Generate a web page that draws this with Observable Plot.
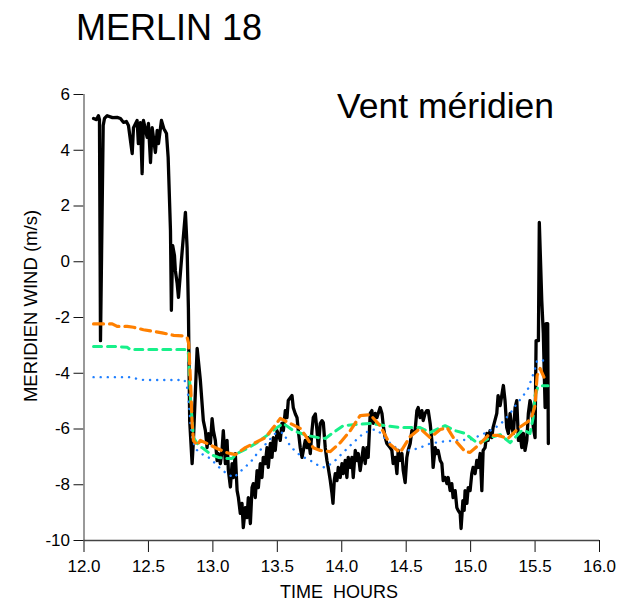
<!DOCTYPE html>
<html>
<head>
<meta charset="utf-8">
<script src="https://cdn.jsdelivr.net/npm/d3@7"></script>
<script src="https://cdn.jsdelivr.net/npm/@observablehq/plot@0.6"></script>
<style>
  html, body { margin: 0; padding: 0; background: #fff; }
  #wrap { position: relative; width: 630px; height: 602px; font-family: "Liberation Sans", Arial, Helvetica, sans-serif; color: #000; }
  #wrap svg { position: absolute; left: 0; top: 0; }
  .txt { position: absolute; line-height: 1; white-space: pre; }
</style>
</head>
<body>
<div id="wrap">
  <div class="txt" id="title" style="left:76px; top:9.5px; font-size:36px;">MERLIN 18</div>
  <div class="txt" id="sub" style="left:337px; top:89px; font-size:35.5px;">Vent méridien</div>
  <div class="txt" id="xlab" style="left:0; width:678px; text-align:center; top:583px; font-size:18px;">TIME  HOURS</div>
  <div class="txt" id="ylab" style="left:31px; top:306px; font-size:18.5px; transform: translate(-50%,-50%) rotate(-90deg);">MERIDIEN WIND (m/s)</div>
</div>
<script>
// ---- tick labels ----
const xTicks = [12, 12.5, 13, 13.5, 14, 14.5, 15, 15.5, 16];
const yTicks = [6, 4, 2, 0, -2, -4, -6, -8, -10];

// ---- measured meridional wind (black) ----
const obsTime = [12.074,12.097,12.112,12.120,12.128,12.149,12.159,12.180,12.221,12.257,12.283,12.306,12.329,12.345,12.374,12.384,12.412,12.422,12.438,12.451,12.461,12.490,12.500,12.516,12.529,12.554,12.568,12.578,12.601,12.619,12.640,12.653,12.671,12.678,12.688,12.702,12.709,12.723,12.733,12.762,12.787,12.800,12.810,12.820,12.839,12.849,12.878,12.903,12.926,12.942,12.955,12.965,12.981,12.994,13.004,13.019,13.033,13.043,13.058,13.071,13.081,13.097,13.110,13.120,13.136,13.149,13.159,13.174,13.188,13.198,13.213,13.226,13.236,13.252,13.265,13.275,13.291,13.304,13.314,13.329,13.343,13.353,13.368,13.381,13.391,13.407,13.420,13.430,13.446,13.459,13.469,13.484,13.498,13.523,13.536,13.547,13.562,13.575,13.585,13.601,13.614,13.624,13.640,13.653,13.663,13.678,13.692,13.702,13.717,13.730,13.740,13.756,13.769,13.779,13.795,13.808,13.818,13.833,13.847,13.857,13.872,13.885,13.895,13.911,13.924,13.932,13.942,13.950,13.963,13.973,13.988,14.002,14.012,14.027,14.040,14.050,14.066,14.079,14.089,14.105,14.118,14.128,14.143,14.157,14.167,14.182,14.195,14.205,14.221,14.234,14.244,14.260,14.273,14.298,14.312,14.324,14.337,14.350,14.376,14.389,14.399,14.415,14.428,14.438,14.453,14.467,14.477,14.492,14.505,14.515,14.531,14.544,14.554,14.569,14.583,14.593,14.608,14.622,14.632,14.647,14.660,14.671,14.686,14.699,14.709,14.725,14.738,14.748,14.764,14.777,14.787,14.802,14.816,14.826,14.841,14.854,14.864,14.880,14.893,14.903,14.919,14.926,14.940,14.950,14.957,14.971,14.981,14.996,15.009,15.019,15.035,15.048,15.058,15.074,15.087,15.097,15.112,15.126,15.136,15.151,15.164,15.174,15.203,15.213,15.229,15.254,15.267,15.280,15.293,15.306,15.319,15.332,15.345,15.358,15.371,15.384,15.397,15.409,15.422,15.436,15.448,15.461,15.474,15.487,15.500,15.508,15.526,15.533,15.552,15.564,15.578,15.585,15.598,15.603];
const obsWind = [5.14,5.10,5.24,5.10,-2.83,4.89,5.14,5.24,5.17,5.18,5.14,5.00,5.03,4.89,3.88,4.81,5.07,4.24,4.99,3.16,5.07,4.46,4.96,3.56,4.81,3.92,4.71,4.24,5.07,4.78,4.60,3.74,1.12,-1.74,0.58,0.22,-0.32,-0.78,-1.28,0.40,1.77,0.51,-1.64,-5.70,-7.24,-6.41,-3.11,-4.26,-5.70,-6.06,-6.67,-6.17,-6.52,-5.63,-6.06,-6.41,-7.13,-6.88,-7.24,-6.77,-6.06,-7.24,-6.41,-7.47,-8.08,-7.24,-7.74,-6.88,-8.21,-8.46,-9.03,-8.67,-9.54,-8.82,-9.18,-8.46,-9.39,-8.10,-7.96,-8.46,-7.49,-8.10,-7.24,-7.74,-7.02,-7.24,-6.67,-7.38,-6.52,-7.02,-6.31,-6.77,-6.06,-6.41,-5.80,-6.06,-5.34,-5.59,-4.98,-4.88,-4.80,-5.24,-5.46,-5.59,-6.06,-6.67,-7.02,-6.77,-6.41,-6.67,-6.31,-6.88,-6.06,-5.59,-5.46,-6.06,-6.67,-5.81,-5.70,-5.77,-6.67,-7.13,-7.38,-7.85,-8.31,-8.67,-7.85,-7.60,-7.85,-7.38,-7.74,-7.24,-7.60,-7.13,-7.74,-7.02,-7.38,-7.02,-7.74,-6.77,-7.13,-6.88,-7.49,-7.02,-6.67,-7.24,-6.67,-7.02,-5.44,-5.34,-5.80,-5.44,-5.59,-5.23,-5.44,-5.95,-6.31,-6.52,-6.67,-6.77,-7.24,-7.02,-7.60,-6.77,-7.13,-6.88,-7.49,-7.92,-7.02,-6.77,-6.52,-6.06,-6.16,-6.06,-5.34,-5.23,-5.59,-5.34,-5.70,-5.44,-5.34,-5.34,-5.80,-6.41,-7.38,-6.67,-6.88,-6.77,-7.13,-7.24,-7.85,-7.74,-7.96,-7.74,-8.21,-7.96,-8.46,-8.21,-8.82,-8.92,-9.03,-9.57,-8.57,-8.92,-8.21,-8.67,-8.10,-8.21,-7.60,-7.38,-7.60,-7.13,-7.38,-6.88,-8.21,-6.77,-6.67,-6.16,-6.41,-6.06,-6.31,-5.95,-5.44,-4.80,-5.16,-4.44,-4.98,-5.95,-6.16,-5.44,-5.95,-6.16,-5.23,-4.98,-6.41,-6.16,-6.67,-6.16,-6.77,-6.41,-5.44,-4.98,-5.23,-5.95,-6.31,-2.83,-2.83,1.41,-1.39,-2.57,-5.23,-2.22,-2.22,-6.52];

// ---- model series: orange (dashed) ----
const orangeTime = [12.074,12.151,12.219,12.257,12.335,12.384,12.461,12.606,12.696,12.761,12.800,12.812,12.826,12.839,12.849,12.878,12.903,12.955,13.033,13.110,13.174,13.252,13.329,13.407,13.469,13.523,13.601,13.678,13.717,13.779,13.833,13.911,13.988,14.066,14.143,14.221,14.298,14.376,14.453,14.531,14.608,14.686,14.764,14.818,14.880,14.957,14.996,15.058,15.136,15.213,15.291,15.368,15.446,15.477,15.500,15.516,15.539,15.578,15.601];
const orangeWind = [-2.23,-2.23,-2.23,-2.32,-2.32,-2.35,-2.44,-2.55,-2.64,-2.66,-2.71,-2.93,-4.26,-5.80,-6.41,-6.59,-6.41,-6.52,-6.70,-6.85,-6.92,-6.67,-6.49,-6.31,-5.95,-5.62,-5.80,-5.98,-6.23,-6.67,-6.77,-6.81,-6.49,-6.06,-5.52,-5.49,-5.88,-6.56,-6.85,-6.27,-5.98,-6.31,-6.02,-5.95,-6.41,-6.81,-6.84,-6.59,-6.23,-6.23,-6.34,-5.98,-5.73,-5.52,-5.16,-4.08,-3.83,-4.23,-4.23];

// ---- model series: green (dashed) ----
const greenTime = [12.074,12.231,12.335,12.360,12.800,12.810,12.826,12.839,12.849,12.888,12.926,12.965,13.004,13.043,13.120,13.149,13.188,13.265,13.343,13.420,13.498,13.547,13.624,13.730,13.818,13.872,13.934,14.012,14.105,14.221,14.337,14.453,14.608,14.686,14.764,14.802,14.880,14.957,15.048,15.097,15.151,15.229,15.306,15.397,15.422,15.461,15.484,15.500,15.523,15.554,15.601];
const greenWind = [-3.04,-3.04,-3.07,-3.15,-3.15,-3.29,-4.87,-5.70,-6.31,-6.59,-6.70,-6.84,-6.95,-7.02,-7.06,-7.06,-6.88,-6.70,-6.49,-6.23,-5.95,-5.80,-6.06,-6.23,-6.31,-6.34,-6.13,-5.88,-5.84,-5.80,-5.88,-5.95,-5.95,-6.13,-5.95,-5.88,-6.06,-6.16,-6.49,-6.45,-6.31,-6.20,-6.49,-6.06,-6.06,-6.16,-5.62,-4.80,-4.48,-4.45,-4.45];

// ---- model series: blue (dotted) ----
const blueTime = [12.074,12.360,12.412,12.461,12.779,12.800,12.810,12.826,12.839,12.864,12.903,12.942,12.981,13.019,13.058,13.097,13.136,13.159,13.198,13.236,13.291,13.343,13.420,13.484,13.547,13.601,13.678,13.756,13.833,13.872,13.934,14.012,14.089,14.167,14.244,14.283,14.350,14.428,14.531,14.608,14.686,14.787,14.893,14.996,15.074,15.151,15.229,15.306,15.358,15.397,15.446,15.474,15.500,15.516,15.564];
const blueWind = [-4.14,-4.14,-4.20,-4.24,-4.24,-4.51,-4.87,-5.80,-6.31,-6.70,-6.88,-6.95,-7.06,-7.24,-7.42,-7.56,-7.67,-7.74,-7.60,-7.42,-7.20,-6.88,-6.49,-6.16,-6.13,-6.63,-6.95,-7.13,-7.35,-7.38,-7.20,-6.84,-6.49,-6.16,-6.02,-6.06,-6.41,-6.70,-6.77,-6.67,-6.52,-6.45,-6.41,-6.38,-6.23,-6.06,-5.84,-5.45,-5.09,-4.88,-4.55,-4.19,-3.83,-3.54,-3.54];

const zip = (ts, vs) => ts.map((t, i) => ({t, v: vs[i]}));
const obs = zip(obsTime, obsWind);
const orange = zip(orangeTime, orangeWind);
const green = zip(greenTime, greenWind);
const blue = zip(blueTime, blueWind);

const chart = Plot.plot({
  width: 630,
  height: 602,
  marginLeft: 83.5,
  marginRight: 31,
  marginTop: 94,
  marginBottom: 62,
  style: { fontFamily: '"Liberation Sans", Arial, Helvetica, sans-serif', fontSize: "17px", background: "transparent", color: "#000" },
  x: { domain: [12, 16] },
  y: { domain: [-10, 6] },
  marks: [
    Plot.axisX({ ticks: xTicks, tickSize: 12, tickPadding: 7, tickFormat: d => d.toFixed(1), label: null, fontSize: 17, stroke: "#111" }),
    Plot.axisY({ ticks: yTicks, tickSize: 10, tickPadding: 4, tickFormat: d => String(d), label: null, fontSize: 17, stroke: "#111" }),
    Plot.ruleX([12], { stroke: "#777", strokeWidth: 1.5 }),
    Plot.ruleY([-10], { stroke: "#444", strokeWidth: 1.5 }),
    Plot.line(obs, { x: "t", y: "v", stroke: "#000", strokeWidth: 3.3, strokeLinejoin: "round" }),
    Plot.line(blue, { x: "t", y: "v", stroke: "#1f7fff", strokeWidth: 2.4, strokeDasharray: "0.1,7", strokeLinecap: "round" }),
    Plot.line(green, { x: "t", y: "v", stroke: "#18f08a", strokeWidth: 3, strokeDasharray: "8,6" }),
    Plot.line(orange, { x: "t", y: "v", stroke: "#ff8000", strokeWidth: 3.2, strokeDasharray: "10,6" })
  ]
});

document.getElementById("wrap").prepend(chart);
</script>
</body>
</html>
